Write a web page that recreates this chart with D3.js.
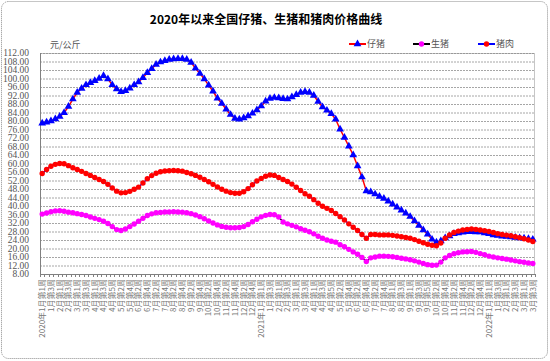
<!DOCTYPE html>
<html>
<head>
<meta charset="utf-8">
<script src="https://cdn.jsdelivr.net/npm/d3@7"></script>
<style>
  body { margin: 0; background: #fff; }
  svg { display: block; }
</style>
</head>
<body>
<svg width="550" height="361"></svg>
<script>
// week categories, 2020-01 to 2022-03
const weeks = [
  "2020年1月第1周","1月第2周","1月第3周","1月第4周",
  "2月第1周","2月第2周","2月第3周","2月第4周",
  "3月第1周","3月第2周","3月第3周","3月第4周",
  "4月第1周","4月第2周","4月第3周","4月第4周","4月第5周",
  "5月第1周","5月第2周","5月第3周","5月第4周",
  "6月第1周","6月第2周","6月第3周","6月第4周",
  "7月第1周","7月第2周","7月第3周","7月第4周",
  "8月第1周","8月第2周","8月第3周","8月第4周",
  "9月第1周","9月第2周","9月第3周","9月第4周",
  "10月第1周","10月第2周","10月第3周","10月第4周",
  "11月第1周","11月第2周","11月第3周","11月第4周",
  "12月第1周","12月第2周","12月第3周","12月第4周","12月第5周",
  "2021年1月第1周","1月第2周","1月第3周","1月第4周",
  "2月第1周","2月第2周","2月第3周","2月第4周",
  "3月第1周","3月第2周","3月第3周","3月第4周",
  "4月第1周","4月第2周","4月第3周","4月第4周","4月第5周",
  "5月第1周","5月第2周","5月第3周","5月第4周",
  "6月第1周","6月第2周","6月第3周","6月第4周",
  "7月第1周","7月第2周","7月第3周","7月第4周","7月第5周",
  "8月第1周","8月第2周","8月第3周","8月第4周",
  "9月第1周","9月第2周","9月第3周","9月第4周","9月第5周",
  "10月第1周","10月第2周","10月第3周","10月第4周",
  "11月第1周","11月第2周","11月第3周","11月第4周",
  "12月第1周","12月第2周","12月第3周","12月第4周","12月第5周",
  "2022年1月第1周","1月第2周","1月第3周","1月第4周",
  "2月第1周","2月第2周","2月第3周","2月第4周",
  "3月第1周","3月第2周","3月第3周"
];

// 仔猪
const piglet = [
  78.9,79.4,80.0,80.9,82.1,83.9,86.8,90.3,93.4,95.3,
  97.0,98.0,98.9,100.0,101.3,99.8,97.0,95.1,93.8,94.2,
  95.4,97.0,98.4,100.4,102.7,104.6,106.6,107.7,108.4,108.9,
  109.2,109.3,109.3,108.9,107.5,104.8,102.4,99.8,96.8,94.0,
  90.7,88.2,85.5,83.0,81.2,80.8,81.4,82.4,83.6,85.2,
  87.0,89.3,90.6,91.0,90.8,90.5,90.3,91.3,92.4,93.4,
  93.8,93.4,92.0,89.2,86.6,85.0,83.4,80.8,76.1,72.2,
  68.1,64.0,58.8,53.6,47.1,46.6,45.6,44.5,43.5,42.2,
  40.8,39.4,38.0,36.6,35.0,32.9,30.8,28.7,26.7,24.3,
  22.9,23.5,24.9,25.9,26.9,27.3,27.6,27.9,27.9,27.8,
  27.7,27.3,26.9,26.4,26.1,25.8,25.6,25.4,25.2,24.9,
  24.8,24.6,24.3
];

// 生猪
const hog = [
  36.2,36.7,37.3,37.7,37.8,37.5,37.1,36.8,36.4,36.0,
  35.5,34.8,34.2,33.6,32.8,31.8,30.3,28.9,28.5,29.2,
  30.3,31.5,32.8,34.2,35.5,36.3,36.8,37.0,37.2,37.2,
  37.3,37.2,37.1,36.8,36.4,35.8,35.0,34.0,33.0,32.0,
  31.1,30.4,30.0,29.8,29.8,29.9,30.3,31.3,32.6,33.8,
  34.9,35.6,36.0,35.9,34.8,32.5,31.6,30.9,30.2,29.3,
  28.6,27.9,26.9,25.8,24.8,24.0,23.4,23.0,21.8,20.8,
  19.6,18.4,17.3,15.8,13.9,15.6,16.0,16.4,16.4,16.3,
  16.1,15.8,15.4,15.1,14.7,14.2,13.6,13.0,12.4,12.1,
  12.2,13.6,15.6,16.7,17.5,18.0,18.4,18.5,18.6,18.2,
  17.6,17.1,16.4,16.0,15.6,15.3,15.0,14.6,14.2,13.8,
  13.5,13.2,13.0
];

// 猪肉
const pork = [
  55.3,57.2,58.7,59.6,60.0,59.9,59.0,58.0,57.2,56.3,
  55.3,54.4,53.4,52.5,51.5,50.2,48.5,47.0,46.2,46.3,
  46.9,47.9,48.9,50.8,52.8,54.3,55.4,56.1,56.5,56.6,
  56.7,56.6,56.4,55.8,55.2,54.4,53.5,52.5,51.4,50.2,
  49.0,47.9,47.0,46.3,46.0,46.0,46.7,48.2,50.0,51.8,
  53.0,54.0,54.6,54.4,53.4,52.5,51.5,50.3,48.8,47.3,
  45.8,44.6,43.0,41.3,39.9,38.9,37.9,36.5,35.0,33.4,
  31.6,30.0,28.5,26.6,24.8,26.6,26.6,26.4,26.4,26.4,
  26.2,25.9,25.5,25.2,24.8,24.2,23.4,22.7,22.0,21.5,
  21.3,22.6,24.8,26.4,27.5,28.2,28.7,29.0,29.2,29.0,
  28.7,28.4,28.0,27.5,27.0,26.6,26.3,26.0,25.5,25.1,
  24.6,24.0,23.3
];

const yTicks = [8,12,16,20,24,28,32,36,40,44,48,52,56,60,64,68,72,76,80,84,88,92,96,100,104,108,112];

const svg = d3.select('svg');
const plotL = 40, plotR = 535, plotT = 53, plotB = 274;
const cjk = '"Noto Sans CJK SC", sans-serif';

// outer frame
svg.append('rect')
  .attr('x', 1.5).attr('y', 1.5)
  .attr('width', 546).attr('height', 357)
  .attr('rx', 7)
  .attr('fill', 'none')
  .attr('stroke', '#8c8c8c')
  .attr('stroke-dasharray', '1,1');

const x = d3.scaleBand().domain(d3.range(weeks.length)).range([plotL, plotR]);
const y = d3.scaleLinear().domain([8, 112]).range([plotB, plotT]);
const cx = i => x(i) + x.bandwidth() / 2;

// grid lines
svg.append('g')
  .attr('transform', `translate(${plotL},0)`)
  .call(d3.axisLeft(y).tickValues(yTicks).tickSize(-(plotR - plotL)).tickFormat(''))
  .call(g => g.select('.domain').remove())
  .selectAll('line')
  .attr('stroke', '#a6a6a6')
  .attr('stroke-dasharray', '2,1');

// plot border
svg.append('rect')
  .attr('x', plotL + 0.5).attr('y', plotT + 0.5)
  .attr('width', plotR - plotL - 1).attr('height', plotB - plotT)
  .attr('fill', 'none')
  .attr('stroke', '#8c8c8c')
  .attr('stroke-dasharray', '1,1');

// y labels
svg.append('g')
  .selectAll('text')
  .data(yTicks)
  .join('text')
  .attr('x', 29)
  .attr('y', d => y(d))
  .attr('dy', '0.35em')
  .attr('text-anchor', 'end')
  .attr('font-family', '"Liberation Serif", serif')
  .attr('font-size', 9.5)
  .attr('fill', '#555')
  .text(d3.format('.2f'));

// axes lines
svg.append('line')
  .attr('x1', plotL + 0.5).attr('x2', plotL + 0.5)
  .attr('y1', plotT).attr('y2', plotB)
  .attr('stroke', '#808080');
svg.append('line')
  .attr('x1', plotL).attr('x2', plotR)
  .attr('y1', plotB + 0.5).attr('y2', plotB + 0.5)
  .attr('stroke', '#808080');

// x tick marks at category boundaries
svg.append('g')
  .selectAll('line')
  .data(d3.range(weeks.length + 1))
  .join('line')
  .attr('x1', i => Math.round(plotL + i * x.bandwidth()) + 0.5)
  .attr('x2', i => Math.round(plotL + i * x.bandwidth()) + 0.5)
  .attr('y1', plotB)
  .attr('y2', plotB + 3)
  .attr('stroke', '#808080');

// x labels, every second week
svg.append('g')
  .selectAll('text')
  .data(weeks.map((w, i) => ({ w, i })).filter(d => d.i % 2 === 0))
  .join('text')
  .attr('transform', d => `translate(${cx(d.i)},${plotB + 5}) rotate(-90)`)
  .attr('dy', '0.35em')
  .attr('text-anchor', 'end')
  .attr('font-family', cjk)
  .attr('font-size', 8)
  .attr('fill', '#777')
  .text(d => d.w);

// series
const series = [
  { name: '仔猪', values: piglet, line: '#ff0000', mark: '#0000ff', shape: 'tri' },
  { name: '生猪', values: hog, line: '#000000', mark: '#ff00ff', shape: 'dot' },
  { name: '猪肉', values: pork, line: '#0000ff', mark: '#ff0000', shape: 'dot' }
];

const line = d3.line().x((d, i) => cx(i)).y(d => y(d));
const tri = d3.symbol().type(d3.symbolTriangle).size(26);

function marker(sel, s) {
  if (s.shape === 'tri') {
    return sel.append('path').attr('d', tri).attr('fill', s.mark);
  }
  return sel.append('circle').attr('r', 2.7).attr('fill', s.mark);
}

series.forEach(s => {
  const g = svg.append('g');
  g.append('path')
    .datum(s.values)
    .attr('d', line)
    .attr('fill', 'none')
    .attr('stroke', s.line)
    .attr('stroke-width', 1.5);
  g.selectAll('g.pt')
    .data(s.values)
    .join('g')
    .attr('class', 'pt')
    .attr('transform', (d, i) => `translate(${cx(i)},${y(d)})`)
    .each(function() { marker(d3.select(this), s); });
});

// legend
const legendX = [349, 413, 478];
series.forEach((s, i) => {
  const g = svg.append('g').attr('transform', `translate(${legendX[i]},44)`);
  g.append('line').attr('x1', 0).attr('x2', 17).attr('stroke', s.line).attr('stroke-width', 2);
  marker(g.append('g').attr('transform', 'translate(8.5,0)'), s);
  g.append('text')
    .attr('x', 18).attr('dy', '0.35em')
    .attr('font-family', cjk)
    .attr('font-size', 9)
    .attr('fill', '#555')
    .text(s.name);
});

// unit
svg.append('text')
  .attr('x', 50).attr('y', 48)
  .attr('font-family', cjk)
  .attr('font-size', 9)
  .attr('fill', '#555')
  .text('元/公斤');

// title
svg.append('text')
  .attr('x', 266).attr('y', 24)
  .attr('text-anchor', 'middle')
  .attr('font-family', cjk)
  .attr('font-size', 12)
  .attr('font-weight', 'bold')
  .attr('fill', '#000')
  .text('2020年以来全国仔猪、生猪和猪肉价格曲线');
</script>
</body>
</html>
